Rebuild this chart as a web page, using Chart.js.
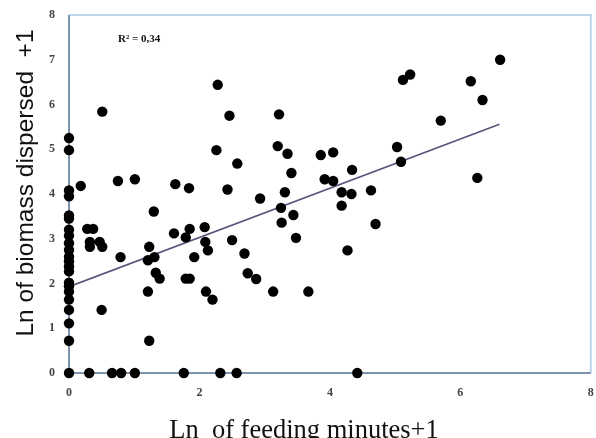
<!DOCTYPE html>
<html>
<head>
<meta charset="utf-8">
<script src="https://cdn.jsdelivr.net/npm/chart.js@4/dist/chart.umd.min.js"></script>
<style>
  body { margin: 0; background: #fff; }
  canvas { display: block; }
</style>
</head>
<body>
<canvas id="scatterChart" width="596" height="438"></canvas>
<script>
// ln(feeding minutes + 1) vs ln(biomass dispersed + 1)
const feedX = [
  0, 0, 0, 0, 0, 0, 0, 0, 0, 0, 0, 0, 0, 0, 0, 0, 0, 0, 0, 0, 0, 0,
  0.18, 0.51, 0.75, 1.01, 1.63, 1.84, 1.30, 0.28, 0.37, 1.61, 1.85, 2.08, 1.79,
  0.32, 0.32, 0.47, 0.51, 0.79, 0.50, 1.23, 1.21, 1.31, 1.33, 1.39, 1.21, 1.23,
  1.79, 1.85, 1.92, 2.09, 2.10, 2.13,
  0.31, 0.66, 0.80, 1.01, 1.76, 2.32, 2.57, 4.42,
  2.28, 2.46, 3.22, 2.26, 2.58, 3.20, 3.35, 3.86, 4.05, 3.41, 3.92, 4.05,
  2.43, 2.93, 3.31, 3.25, 4.18, 4.18, 3.44, 3.26, 4.33, 4.34, 4.63, 4.70,
  5.03, 5.09, 5.12, 5.23, 5.70, 6.16, 6.34, 6.26, 6.61,
  2.50, 2.69, 3.48, 2.74, 2.87, 2.20, 3.13, 3.67, 4.27
];
const biomassY = [
  5.25, 4.98, 4.08, 3.95, 3.52, 3.45, 3.20, 3.07, 2.90, 2.75, 2.60, 2.50, 2.38, 2.27, 2.02, 1.94, 1.82, 1.64, 1.41, 1.11, 0.72, 0,
  4.18, 5.84, 4.29, 4.33, 4.22, 4.13, 3.61, 3.22, 3.22, 3.12, 3.22, 3.26, 3.03,
  2.93, 2.82, 2.93, 2.82, 2.59, 1.41, 2.82, 2.52, 2.59, 2.24, 2.11, 1.82, 0.72,
  2.11, 2.11, 2.59, 2.93, 1.82, 2.74,
  0, 0, 0, 0, 0, 0, 0, 0,
  6.44, 5.75, 5.78, 4.98, 4.68, 5.07, 4.90, 4.87, 4.93, 4.47, 4.33, 4.29,
  4.10, 3.90, 4.04, 3.69, 4.04, 3.74, 3.53, 3.36, 4.00, 4.54, 4.08, 3.33,
  5.05, 4.72, 6.55, 6.67, 5.64, 6.52, 6.10, 4.36, 7.00,
  2.97, 2.67, 3.02, 2.23, 2.10, 1.64, 1.82, 1.82, 2.74
];
// fitted line end points
const trendX = [0, 6.6];
const trendY = [1.93, 5.56];
const xTicks = [0, 2, 4, 6, 8];
const yTicks = [0, 1, 2, 3, 4, 5, 6, 7, 8];
const rSquaredLabel = 'R\u00B2 = 0,34';

const tickFont = { family: "'Liberation Serif', 'Times New Roman', serif", size: 12, weight: 'bold' };

const frame = {
  id: 'frame',
  beforeDatasetsDraw(chart) {
    const { ctx, chartArea: a } = chart;
    ctx.save();
    ctx.lineWidth = 2;
    ctx.strokeStyle = '#bcd6ef';
    ctx.beginPath();
    ctx.moveTo(a.left, a.top);
    ctx.lineTo(a.right, a.top);
    ctx.lineTo(a.right, a.bottom);
    ctx.stroke();
    ctx.strokeStyle = '#7d93ab';
    ctx.beginPath();
    ctx.moveTo(a.left, a.top);
    ctx.lineTo(a.left, a.bottom);
    ctx.lineTo(a.right, a.bottom);
    ctx.stroke();
    ctx.restore();
  },
  afterDraw(chart) {
    const { ctx } = chart;
    ctx.save();
    ctx.fillStyle = '#111';
    ctx.font = "bold 11px 'Liberation Serif', serif";
    ctx.textBaseline = 'middle';
    ctx.fillText(rSquaredLabel, 118, 39);

    ctx.font = "26.5px 'Liberation Serif', serif";
    ctx.textAlign = 'center';
    ctx.textBaseline = 'alphabetic';
    ctx.fillText('Ln  of feeding minutes+1', 304, 438);

    ctx.translate(33, 183);
    ctx.rotate(-Math.PI / 2);
    ctx.font = "24.5px 'Liberation Sans', Arial, sans-serif";
    ctx.fillText('Ln of biomass dispersed  +1', 0, 0);
    ctx.restore();
  }
};

new Chart(document.getElementById('scatterChart').getContext('2d'), {
  type: 'scatter',
  data: {
    datasets: [
      {
        label: 'observations',
        data: feedX.map((x, i) => ({ x: x, y: biomassY[i] })),
        backgroundColor: '#000',
        borderWidth: 0,
        pointRadius: 5.2,
        pointHoverRadius: 5.2,
        clip: false,
        order: 1
      },
      {
        type: 'line',
        label: 'linear fit',
        data: trendX.map((x, i) => ({ x: x, y: trendY[i] })),
        borderColor: '#5b5379',
        borderWidth: 1.6,
        pointRadius: 0,
        fill: false,
        order: 2
      }
    ]
  },
  options: {
    responsive: false,
    animation: false,
    layout: { padding: { top: 15, right: 4, left: 0, bottom: 0 } },
    plugins: { legend: { display: false }, tooltip: { enabled: false } },
    scales: {
      x: {
        type: 'linear',
        min: 0, max: 8,
        afterBuildTicks: s => { s.ticks = xTicks.map(v => ({ value: v })); },
        afterFit: s => { s.height = 65; s.paddingLeft = 0; s.paddingRight = 0; },
        grid: { display: false, drawTicks: false },
        border: { display: false },
        ticks: { font: tickFont, color: '#444', padding: 13, maxRotation: 0 }
      },
      y: {
        type: 'linear',
        min: 0, max: 8,
        afterBuildTicks: s => { s.ticks = yTicks.map(v => ({ value: v })); },
        afterFit: s => { s.width = 69; s.paddingTop = 0; s.paddingBottom = 0; },
        grid: { display: false, drawTicks: false },
        border: { display: false },
        ticks: { font: tickFont, color: '#444', padding: 14 }
      }
    }
  },
  plugins: [frame]
});
</script>
</body>
</html>
